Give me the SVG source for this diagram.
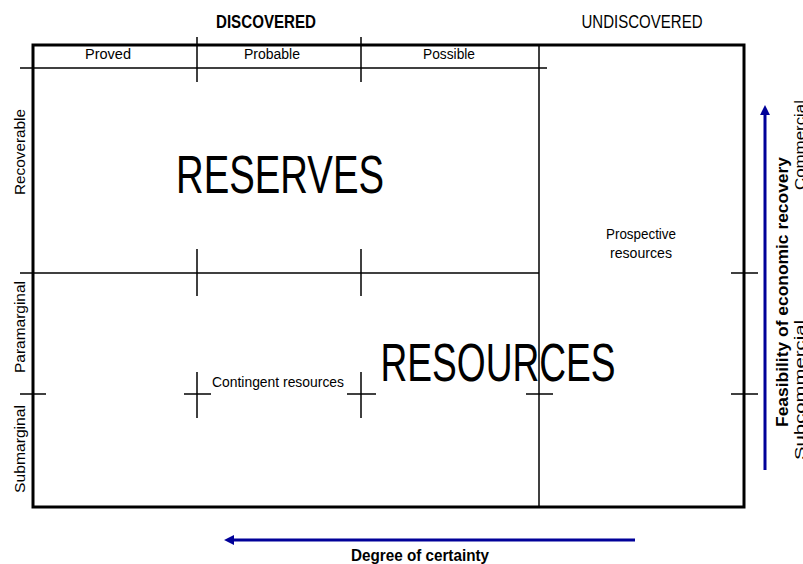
<svg xmlns="http://www.w3.org/2000/svg" width="803" height="564" viewBox="0 0 803 564">
<defs>
<style>
.t{font-family:"Liberation Sans",Arial,sans-serif;fill:#000}
.b{font-weight:bold}
.ln{stroke:#000;stroke-width:1.5;fill:none}
.thick{stroke:#000;stroke-width:3;fill:none}
.arr{stroke:#000099;stroke-width:3;fill:none}
</style>
<marker id="ah" viewBox="0 0 10 10" refX="3" refY="5" markerWidth="3.3" markerHeight="3.3" orient="auto" markerUnits="strokeWidth">
<path d="M0,0 L10,5 L0,10 Z" fill="#000099"/>
</marker>
</defs>
<rect width="803" height="564" fill="#fff"/>
<g id="connectors">
<rect x="33" y="45" width="711" height="462" class="thick"/>
<line x1="539" y1="45" x2="539" y2="507" class="ln" stroke-width="2"/>
<line x1="20" y1="68" x2="547" y2="68" class="ln" stroke-width="2"/>
<line x1="197" y1="37" x2="197" y2="82" class="ln"/>
<line x1="361" y1="37" x2="361" y2="82" class="ln"/>
<line x1="20" y1="273" x2="539" y2="273" class="ln"/>
<line x1="197" y1="249" x2="197" y2="296" class="ln"/>
<line x1="361" y1="249" x2="361" y2="296" class="ln"/>
<line x1="731" y1="273" x2="758" y2="273" class="ln"/>
<line x1="20" y1="394" x2="46" y2="394" class="ln"/>
<line x1="184" y1="394" x2="211" y2="394" class="ln"/>
<line x1="197" y1="372" x2="197" y2="418" class="ln"/>
<line x1="347" y1="394" x2="376" y2="394" class="ln"/>
<line x1="361" y1="372" x2="361" y2="418" class="ln"/>
<line x1="526" y1="394" x2="553" y2="394" class="ln"/>
<line x1="731" y1="394" x2="758" y2="394" class="ln"/>
<line x1="765" y1="470" x2="765" y2="112" class="arr" marker-end="url(#ah)"/>
<line x1="635" y1="540" x2="231" y2="540" class="arr" marker-end="url(#ah)"/>
</g>
<g id="header-discovered"><text class="t b" x="266" y="28" font-size="18" text-anchor="middle" textLength="100" lengthAdjust="spacingAndGlyphs">DISCOVERED</text></g>
<g id="header-undiscovered"><text class="t" x="642" y="28" font-size="18" text-anchor="middle" textLength="121" lengthAdjust="spacingAndGlyphs">UNDISCOVERED</text></g>
<g id="col-proved"><text class="t" x="108" y="59" font-size="14" text-anchor="middle" textLength="46" lengthAdjust="spacingAndGlyphs">Proved</text></g>
<g id="col-probable"><text class="t" x="272" y="59" font-size="14" text-anchor="middle" textLength="56" lengthAdjust="spacingAndGlyphs">Probable</text></g>
<g id="col-possible"><text class="t" x="449" y="59" font-size="14" text-anchor="middle" textLength="52" lengthAdjust="spacingAndGlyphs">Possible</text></g>
<g id="row-recoverable"><text class="t" transform="translate(25,152) rotate(-90)" font-size="14" text-anchor="middle" textLength="86" lengthAdjust="spacingAndGlyphs">Recoverable</text></g>
<g id="row-paramarginal"><text class="t" transform="translate(25,327) rotate(-90)" font-size="14" text-anchor="middle" textLength="92" lengthAdjust="spacingAndGlyphs">Paramarginal</text></g>
<g id="row-submarginal"><text class="t" transform="translate(25,449) rotate(-90)" font-size="14" text-anchor="middle" textLength="88" lengthAdjust="spacingAndGlyphs">Submarginal</text></g>
<g id="reserves"><text class="t" x="280" y="193" font-size="53" text-anchor="middle" textLength="208" lengthAdjust="spacingAndGlyphs">RESERVES</text></g>
<g id="resources"><text class="t" x="498" y="381" font-size="53" text-anchor="middle" textLength="235" lengthAdjust="spacingAndGlyphs">RESOURCES</text></g>
<g id="contingent"><text class="t" x="278" y="387" font-size="15" text-anchor="middle" textLength="132" lengthAdjust="spacingAndGlyphs">Contingent resources</text></g>
<g id="prospective">
<text class="t" x="641" y="239" font-size="14" text-anchor="middle" textLength="70" lengthAdjust="spacingAndGlyphs">Prospective</text>
<text class="t" x="641" y="258" font-size="14" text-anchor="middle" textLength="62" lengthAdjust="spacingAndGlyphs">resources</text>
</g>
<g id="feasibility"><text class="t b" transform="translate(788,292) rotate(-90)" font-size="16" text-anchor="middle" textLength="270" lengthAdjust="spacingAndGlyphs">Feasibility of economic recovery</text></g>
<g id="commercial"><text class="t" transform="translate(805,100) rotate(-90)" font-size="15" text-anchor="end" textLength="90" lengthAdjust="spacingAndGlyphs">Commercial</text></g>
<g id="subcommercial"><text class="t" transform="translate(805,460) rotate(-90)" font-size="15" text-anchor="start" textLength="140" lengthAdjust="spacingAndGlyphs">Subcommercial</text></g>
<g id="certainty"><text class="t b" x="420" y="561" font-size="16" text-anchor="middle" textLength="138" lengthAdjust="spacingAndGlyphs">Degree of certainty</text></g>
</svg>
